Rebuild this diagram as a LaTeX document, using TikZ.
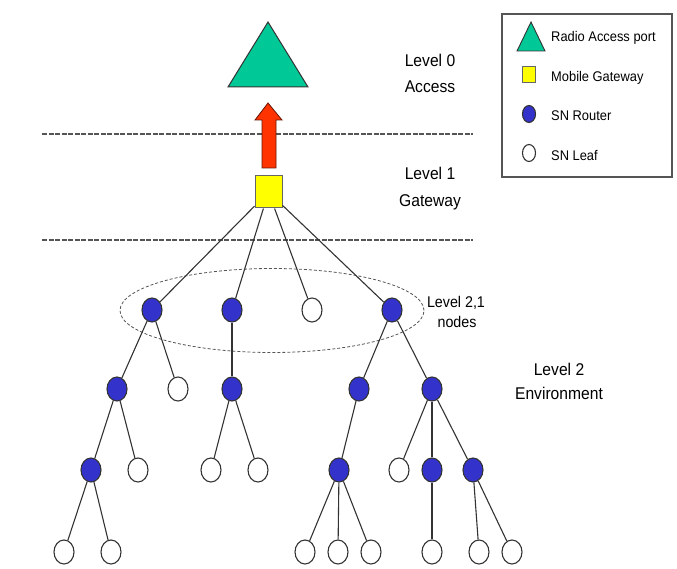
\documentclass[tikz,border=0pt]{standalone}
\usepackage{fontspec}
\setmainfont{Liberation Sans}
\newfontfamily\lbl[FakeStretch=0.92]{Liberation Sans}
\usetikzlibrary{shapes.geometric}
\definecolor{tricol}{HTML}{00C896}
\definecolor{routcol}{HTML}{3333CC}
\definecolor{gwcol}{HTML}{FFFF00}
\definecolor{arrcol}{HTML}{FF3300}
\definecolor{edgecol}{HTML}{333333}
\definecolor{dashcol}{HTML}{555555}
\begin{document}
\begin{tikzpicture}[x=1pt,y=-1pt,
  router/.style={ellipse,draw=edgecol,line width=1.1pt,fill=routcol,minimum width=20pt,minimum height=24pt,inner sep=0pt},
  leaf/.style={ellipse,draw=edgecol,line width=1.1pt,fill=white,minimum width=20pt,minimum height=24pt,inner sep=0pt},
  smallrouter/.style={router,minimum width=13pt,minimum height=17pt},
  smallleaf/.style={leaf,minimum width=13pt,minimum height=17pt},
  link/.style={draw=edgecol,line width=1.1pt},
  levelline/.style={draw=dashcol,dash pattern=on 5pt off 1.5pt},
  biglbl/.style={font=\lbl\fontsize{17}{20}\selectfont,anchor=base,inner sep=0pt},
  midlbl/.style={font=\lbl\fontsize{15.5}{18}\selectfont,anchor=base,inner sep=0pt},
  leglbl/.style={font=\lbl\fontsize{14}{16}\selectfont,anchor=base west,inner sep=0pt}
]
\useasboundingbox (0,0) rectangle (677,569);

% level separators
\draw[levelline,line width=1.8pt] (42,134) -- (473,134);
\draw[levelline,line width=2.6pt] (42,240) -- (473,240);

% access point
\draw[fill=tricol,draw=edgecol,line width=1pt,line join=miter] (268,22) -- (308,87) -- (228,87) -- cycle;

% upward arrow
\draw[fill=arrcol,draw=black!60!arrcol,line width=0.8pt]
  (268,103) -- (282,120) -- (276,120) -- (276,168) -- (262,168) -- (262,120) -- (255,120) -- cycle;

% gateway
\node[rectangle,draw=black!60,fill=gwcol,minimum width=27pt,minimum height=32pt,inner sep=0pt,line width=1pt] (gw) at (268.5,192) {};

% level 2,1 grouping
\draw[draw=dashcol,line width=0.8pt,dash pattern=on 3pt off 2pt] (272,310.5) ellipse [x radius=152pt, y radius=42pt];

% tree nodes
\node[router] (a1) at (152,310) {};
\node[router] (a2) at (232,310) {};
\node[leaf]   (a3) at (312,310) {};
\node[router] (a4) at (392,310) {};

\node[router] (b1) at (117,389) {};
\node[leaf]   (b2) at (178,389) {};
\node[router] (b3) at (232,389) {};
\node[router] (b4) at (359,389) {};
\node[router] (b5) at (432,389) {};

\node[router] (c1) at (91,470) {};
\node[leaf]   (c2) at (138,470) {};
\node[leaf]   (c3) at (211,470) {};
\node[leaf]   (c4) at (258,470) {};
\node[router] (c5) at (339,470) {};
\node[leaf]   (c6) at (399,470) {};
\node[router] (c7) at (432,470) {};
\node[router] (c8) at (473,470) {};

\node[leaf] (d1) at (64,552) {};
\node[leaf] (d2) at (111,552) {};
\node[leaf] (d3) at (305,552) {};
\node[leaf] (d4) at (338,552) {};
\node[leaf] (d5) at (371,552) {};
\node[leaf] (d6) at (432,552) {};
\node[leaf] (d7) at (479,552) {};
\node[leaf] (d8) at (512,552) {};

% links
\foreach \s/\t in {gw/a1,gw/a2,gw/a3,gw/a4,
                   a1/b1,a1/b2,a2/b3,a4/b4,a4/b5,
                   b1/c1,b1/c2,b3/c3,b3/c4,b4/c5,b5/c6,b5/c7,b5/c8,
                   c1/d1,c1/d2,c5/d3,c5/d4,c5/d5,c7/d6,c8/d7,c8/d8}
  \draw[link] (\s) -- (\t);

% level labels
\node[biglbl] (l0a) at (430,67) {Level 0};
\node[biglbl] (l0b) at (430,93) {Access};
\node[biglbl] (l1a) at (430,180) {Level 1};
\node[biglbl] (l1b) at (430,207) {Gateway};
\node[midlbl] (l21a) at (456,307) {Level 2,1};
\node[midlbl] (l21b) at (457,327) {nodes};
\node[biglbl] (l2a) at (559,375) {Level 2};
\node[biglbl] (l2b) at (559,399) {Environment};

% legend
\draw[draw=dashcol,line width=1.2pt] (502,14) rectangle (672,177);
\draw[fill=tricol,draw=edgecol,line width=0.9pt] (531,22) -- (545,51) -- (517,51) -- cycle;
\node[rectangle,draw=black!60,fill=gwcol,minimum width=13pt,minimum height=16pt,inner sep=0pt,line width=0.9pt] (lgw) at (529,74) {};
\node[smallrouter] (lrt) at (529,114) {};
\node[smallleaf] (llf) at (529,153) {};
\node[leglbl] (t1) at (551,42) {Radio Access port};
\node[leglbl] (t2) at (551,82) {Mobile Gateway};
\node[leglbl] (t3) at (551,121) {SN Router};
\node[leglbl] (t4) at (551,161) {SN Leaf};
\end{tikzpicture}
\end{document}
